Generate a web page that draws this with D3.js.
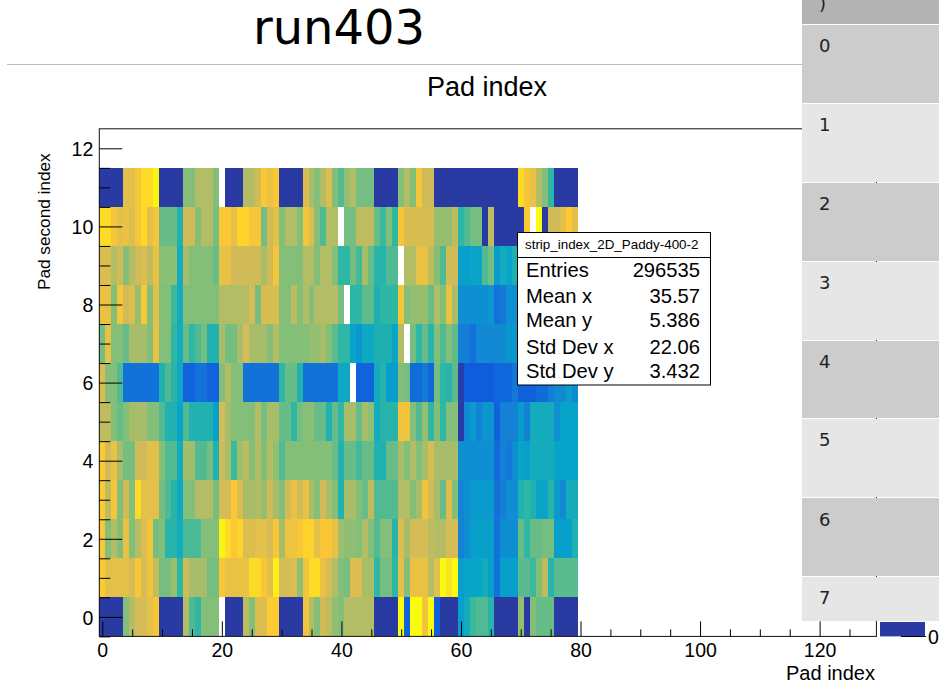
<!DOCTYPE html>
<html>
<head>
<meta charset="utf-8">
<script src="https://cdn.jsdelivr.net/npm/d3@7"></script>
<style>
html,body{margin:0;padding:0;background:#fff;overflow:hidden}
svg{display:block}
text{font-family:"Liberation Sans",Arial,sans-serif;fill:#000}
</style>
</head>
<body>
<svg id="c" width="939" height="684"></svg>
<script>
const row11=[4,4,4,4,80,80,85,92,92,98,
4,4,4,4,62,62,70,70,70,62,
null,4,4,4,70,70,75,87,82,87,
4,4,4,4,78,68,62,70,78,62,
55,65,70,60,60,60,4,4,4,4,
62,70,62,85,75,75,4,4,4,4,
4,4,4,4,4,4,4,4,4,4,
92,85,82,70,62,50,4,4,4,4];
const row10=[92,92,85,80,82,78,85,92,80,85,
58,58,58,46,75,75,62,70,70,60,
87,87,80,90,90,85,85,60,75,80,
62,70,70,62,85,78,62,55,70,70,
null,60,60,72,72,72,58,52,62,50,
85,77,77,77,77,77,65,65,65,72,
50,55,60,60,4,72,4,4,4,4,
4,88,null,100,4,75,75,80,88,80];
const row9=[78,78,70,75,62,70,75,78,72,82,
63,63,63,42,68,62,62,62,62,58,
82,82,75,75,75,75,75,68,75,85,
62,62,62,62,70,70,62,70,70,62,
50,50,60,53,68,58,48,48,55,55,
null,70,70,82,82,72,62,55,75,75,
36,36,38,38,55,60,35,42,38,45,
40,38,42,40,44,40,38,42,40,40];
const row8=[82,82,62,85,75,78,65,87,62,80,
62,62,52,42,62,62,62,62,62,62,
70,70,70,70,70,76,60,77,77,77,
62,62,72,62,70,62,70,70,70,70,
60,null,50,50,57,57,45,50,50,50,
85,62,65,65,65,58,70,62,82,68,
30,30,30,30,30,32,20,22,30,30,
32,30,34,32,30,32,34,30,32,32];
const row7=[60,82,62,62,58,68,68,68,62,82,
62,62,50,42,58,50,55,60,46,46,
68,60,60,68,76,68,68,68,62,70,
62,62,62,62,62,65,65,68,62,56,
50,50,37,32,40,40,45,45,45,38,
70,null,60,50,58,48,62,55,62,57,
24,24,20,28,28,28,28,28,33,33,
30,30,32,28,30,32,30,28,30,30];
const row6=[78,62,62,55,20,20,20,20,20,20,
46,55,48,40,15,15,20,20,15,15,
62,70,62,62,20,20,20,20,20,20,
50,58,58,46,20,20,20,20,20,20,
40,40,null,15,15,15,42,48,35,35,
62,60,18,18,23,16,60,50,48,57,
5,13,13,13,13,13,16,16,16,22,
14,14,14,18,18,24,28,28,35,28];
const row5=[72,72,62,58,62,68,68,68,62,62,
55,46,46,38,55,46,46,46,46,36,
76,68,62,62,62,62,70,60,68,68,
58,58,50,60,63,63,58,58,46,58,
50,68,68,58,68,63,42,48,48,48,
84,84,62,55,65,50,62,50,62,62,
4,28,34,26,32,32,15,25,25,25,
35,25,42,42,42,42,30,37,37,37];
const row4=[88,75,82,68,60,60,75,75,80,80,
62,55,55,42,67,67,55,55,60,46,
74,68,52,66,72,62,70,62,70,64,
55,62,62,62,62,62,62,62,62,58,
46,58,58,53,58,58,46,46,58,58,
68,62,70,62,68,77,68,68,68,68,
30,30,30,30,30,30,17,25,22,30,
38,36,42,42,42,42,37,37,37,37];
const row3=[88,72,85,62,75,62,92,80,80,80,
60,55,48,40,62,62,70,70,70,60,
76,76,87,77,68,68,70,65,75,68,
62,75,82,75,82,68,62,75,68,62,
46,68,68,62,58,72,55,55,55,55,
70,70,62,68,84,75,68,58,78,62,
26,30,34,34,34,34,20,24,30,30,
46,50,46,38,38,48,34,28,42,42];
const row2=[87,62,70,62,82,62,70,78,85,60,
62,48,48,42,54,54,54,62,62,62,
98,92,87,90,78,78,80,80,76,86,
68,83,83,86,90,90,80,86,86,82,
66,64,64,62,70,62,55,62,62,48,
78,68,76,76,76,72,70,70,76,76,
25,30,36,36,36,36,20,30,30,30,
58,50,58,58,60,60,36,36,36,46];
const row1=[88,80,80,80,80,76,86,76,84,73,
60,60,66,50,75,68,68,68,60,60,
86,82,82,82,82,92,92,86,80,97,
76,76,78,64,84,92,92,82,76,70,
62,60,78,78,68,68,50,60,60,50,
80,62,82,82,82,70,80,100,94,100,
35,38,38,38,42,36,20,36,36,36,
56,56,52,62,72,48,56,56,56,56];
const row0=[4,4,4,4,62,70,76,76,80,86,
4,4,4,4,70,55,50,62,62,62,
null,4,4,4,72,62,78,78,88,88,
4,4,4,4,84,70,62,75,72,64,
62,70,70,70,70,70,4,4,4,4,
100,15,100,100,84,100,14,4,4,4,
35,42,52,55,55,48,4,4,4,4,
65,4,62,58,58,58,4,4,4,4];
const rows=[row0,row1,row2,row3,row4,row5,row6,row7,row8,row9,row10,row11];

const paletteLevels=[0,12.5,25,37.5,50,62.5,75,87.5,100];
const paletteColors=["#352a87","#0f5cdd","#1481d6","#06a4ca","#2eb7a4","#87bf77","#d1bb59","#fec832","#f9fb0e"];

const xMajor=[0,20,40,60,80,100,120];
const xMinor=[5,10,15,25,30,35,45,50,55,65,70,75,85,90,95,105,110,115,125];
const yMajor=[0,2,4,6,8,10,12];
const yMinor=[-0.5,0.5,1,1.5,2.5,3,3.5,4.5,5,5.5,6.5,7,7.5,8.5,9,9.5,10.5,11,11.5];

const statNames=["Entries","Mean x","Mean y","Std Dev x","Std Dev y"];
const statValues=["296535","35.57","5.386","22.06","3.432"];
const statBaselines=[277,303,327,354,378];
const tableLabels=[")","0","1","2","3","4","5","6","7"];

const svg=d3.select("#c");
const x=d3.scaleLinear().domain([-0.5,129.5]).range([99.3,876.4]);
const y=d3.scaleLinear().domain([-0.5,12.5]).range([636.4,128.8]);
const color=d3.scaleLinear().domain(paletteLevels).range(paletteColors).interpolate(d3.interpolateRgb);

// title block
svg.append("text").attr("x",339).attr("y",44).attr("text-anchor","middle")
  .style("font-family","'DejaVu Sans'").style("font-size","48px").text("run403");
svg.append("line").attr("x1",7).attr("x2",802).attr("y1",64.5).attr("y2",64.5).attr("stroke","#bdbdbd").attr("stroke-width",1.2);
svg.append("text").attr("x",487).attr("y",95.5).attr("text-anchor","middle").style("font-size","27px").text("Pad index");

// cells
const cells=[];
rows.forEach((r,j)=>r.forEach((v,i)=>{if(v!==null)cells.push({i,j,v});}));
svg.append("g").attr("shape-rendering","crispEdges").selectAll("rect").data(cells).join("rect")
  .attr("x",d=>x(d.i-0.5)).attr("width",d=>x(d.i+0.5)-x(d.i-0.5))
  .attr("y",d=>y(d.j+0.5)).attr("height",d=>y(d.j-0.5)-y(d.j+0.5))
  .attr("fill",d=>color(d.v));

// frame
svg.append("rect").attr("x",x(-0.5)).attr("y",y(12.5)).attr("width",x(129.5)-x(-0.5)).attr("height",y(-0.5)-y(12.5))
  .attr("fill","none").attr("stroke","#111").attr("stroke-width",1);

// axes
function styleAxis(g){g.select(".domain").remove();g.selectAll("line").attr("stroke","#000").attr("stroke-width",1);
  g.selectAll("text").style("font-size","19.5px").attr("fill","#000");g.attr("font-family",null);}
svg.append("g").attr("transform",`translate(0,${y(-0.5)})`)
  .call(d3.axisBottom(x).tickValues(xMajor).tickSize(-15).tickPadding(6.5).tickFormat(d3.format("d"))).call(styleAxis);
svg.append("g").attr("transform",`translate(0,${y(-0.5)})`)
  .call(d3.axisBottom(x).tickValues(xMinor).tickSize(-7).tickFormat("")).call(styleAxis);
svg.append("g").attr("transform",`translate(${x(-0.5)},0)`)
  .call(d3.axisLeft(y).tickValues(yMajor).tickSize(-23).tickPadding(6).tickFormat(d3.format("d"))).call(styleAxis)
  .call(g=>g.selectAll("text").attr("dy","0.37em"));
svg.append("g").attr("transform",`translate(${x(-0.5)},0)`)
  .call(d3.axisLeft(y).tickValues(yMinor).tickSize(-11).tickFormat("")).call(styleAxis);

svg.append("text").attr("x",875).attr("y",679.5).attr("text-anchor","end").style("font-size","20px").text("Pad index");
svg.append("text").attr("transform","translate(50,290) rotate(-90)").style("font-size","17.2px").text("Pad second index");

// stats box
const sb=svg.append("g");
sb.append("rect").attr("x",517.5).attr("y",232.5).attr("width",193).attr("height",152.5).attr("fill","#fff").attr("stroke","#000");
sb.append("line").attr("x1",517.5).attr("x2",710.5).attr("y1",257.5).attr("y2",257.5).attr("stroke","#000");
sb.append("text").attr("x",525).attr("y",248.5).style("font-size","13.4px").text("strip_index_2D_Paddy-400-2");
sb.selectAll(".n").data(statNames).join("text").attr("x",526).attr("y",(d,i)=>statBaselines[i]).style("font-size","20.2px").text(d=>d);
sb.selectAll(".v").data(statValues).join("text").attr("x",700).attr("y",(d,i)=>statBaselines[i]).attr("text-anchor","end").style("font-size","20.2px").text(d=>d);

// palette fragment at the lower right
svg.append("rect").attr("x",880).attr("y",622).attr("width",45).attr("height",14.4).attr("fill",color(4));
svg.append("line").attr("x1",901).attr("x2",926).attr("y1",636.5).attr("y2",636.5).attr("stroke","#000");
svg.append("text").attr("x",928).attr("y",644).style("font-size","19.5px").text("0");

// table column overlapping the right of the chart
const tableTop=[-54,25,104,183,262,341,419,498,577];
const tableBottom=[24,103,182,261,340,418,497,576,621];
const tableBaseline=[9.5,51.5,130.5,209.5,288.5,367.5,446,525.5,604];
const table=svg.append("g").selectAll("g").data(tableLabels).join("g");
table.append("rect").attr("x",802).attr("width",137)
  .attr("y",(d,i)=>tableTop[i]).attr("height",(d,i)=>tableBottom[i]-tableTop[i])
  .attr("fill",(d,i)=>i===0?"#b3b3b3":(i%2===1?"#cccccc":"#e6e6e6"));
table.append("text").attr("x",819).attr("y",(d,i)=>tableBaseline[i])
  .style("font-family","'DejaVu Sans'").style("font-size","18px").style("fill","#222").text(d=>d);
</script>
</body>
</html>
